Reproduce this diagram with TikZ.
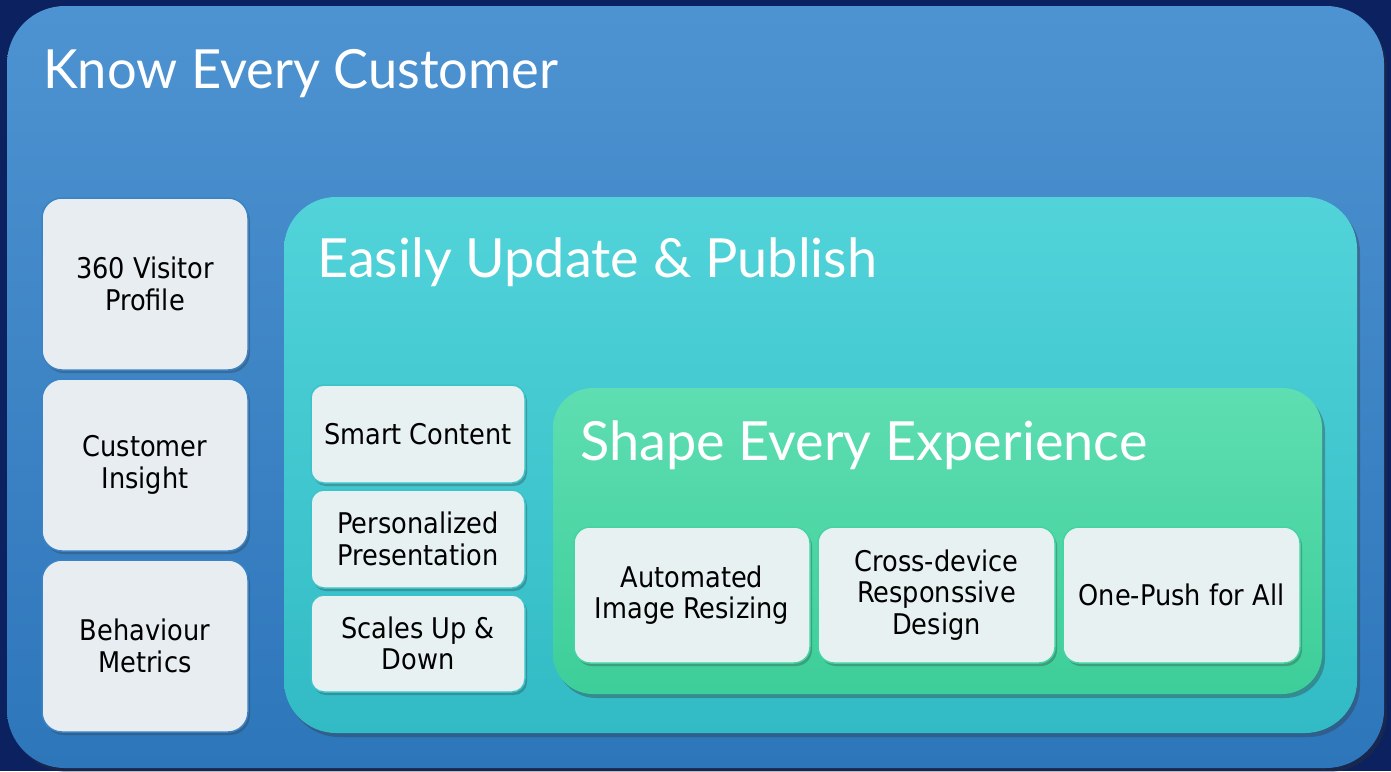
\documentclass[tikz,border=0pt]{standalone}
\usepackage{fontspec}
\setmainfont{DejaVu Sans Condensed}
\newfontfamily\titlefont{Lato}
\usetikzlibrary{shadows}
\definecolor{navy}{HTML}{0B2160}
\definecolor{outerTop}{HTML}{4E93D1}
\definecolor{outerBot}{HTML}{2D76BA}
\definecolor{tealTop}{HTML}{51D3D9}
\definecolor{tealBot}{HTML}{32BBC5}
\definecolor{greenTop}{HTML}{5EDEB1}
\definecolor{greenBot}{HTML}{3DCE99}
\definecolor{boxFillA}{HTML}{E8EDF2}
\definecolor{boxFillB}{HTML}{E8F1F1}
\definecolor{edgeBlue}{HTML}{3A83C6}
\definecolor{edgeTeal}{HTML}{3BC3CB}
\definecolor{edgeGreen}{HTML}{45D3A4}
\tikzset{
  panel/.style={rounded corners=#1, drop shadow={shadow xshift=3pt, shadow yshift=-4pt, opacity=0.35, fill=black!80}},
  title/.style={anchor=base west, inner sep=0pt, text=white, font=\titlefont\fontsize{54}{60}\selectfont},
  cardbox/.style={line width=1.5pt, align=center, inner sep=2pt,
     font=\fontsize{28.5}{31.5}\selectfont, text=black,
     drop shadow={shadow xshift=2pt, shadow yshift=-3pt, opacity=0.3, fill=black!80}},
  cardA/.style={cardbox, rounded corners=20pt, fill=boxFillA, draw=edgeBlue},
  cardB/.style={cardbox, rounded corners=13pt, fill=boxFillB, draw=edgeTeal},
  cardC/.style={cardbox, rounded corners=16pt, fill=boxFillB, draw=edgeGreen},
}
\begin{document}
\begin{tikzpicture}[x=1pt, y=-1pt]
\fill[navy] (0,0) rectangle (1391,771);
\useasboundingbox (0,0) rectangle (1391,771);
% outer panel
\shade[panel=58pt, top color=outerTop, bottom color=outerBot] (7,6) rectangle (1384,768);
\node[title] (t1) at (43,88) {\scalebox{0.97}[1]{Know Every Customer}};
% left cards
\node[cardA, minimum width=206pt, minimum height=172pt] (c1) at (145,284) {360 Visitor\\Profile};
\node[cardA, minimum width=206pt, minimum height=172pt] (c2) at (145,465) {Customer\\Insight};
\node[cardA, minimum width=206pt, minimum height=172pt] (c3) at (145,646) {Behaviour\\Metrics};
% teal panel
\shade[panel=52pt, top color=tealTop, bottom color=tealBot] (284,197) rectangle (1357,733);
\node[title] (t2) at (317,277) {Easily Update \& Publish};
\node[cardB, minimum width=214pt, minimum height=98pt] (m1) at (418,434) {Smart Content};
\node[cardB, minimum width=214pt, minimum height=98pt] (m2) at (418,539) {Personalized\\Presentation};
\node[cardB, minimum width=214pt, minimum height=97pt] (m3) at (418,643.5) {Scales Up \&\\Down};
% green panel
\shade[panel=40pt, top color=greenTop, bottom color=greenBot] (553,388) rectangle (1322,694);
\node[title] (t3) at (580,460) {Shape Every Experience};
\node[cardC, minimum width=236pt, minimum height=136pt] (e1) at (692,595) {Automated\\Image Resizing};
\node[cardC, minimum width=237pt, minimum height=136pt] (e2) at (936.5,595) {Cross-device\\Responssive\\Design};
\node[cardC, minimum width=237pt, minimum height=136pt] (e3) at (1181.5,595) {One-Push for All};
\end{tikzpicture}
\end{document}
